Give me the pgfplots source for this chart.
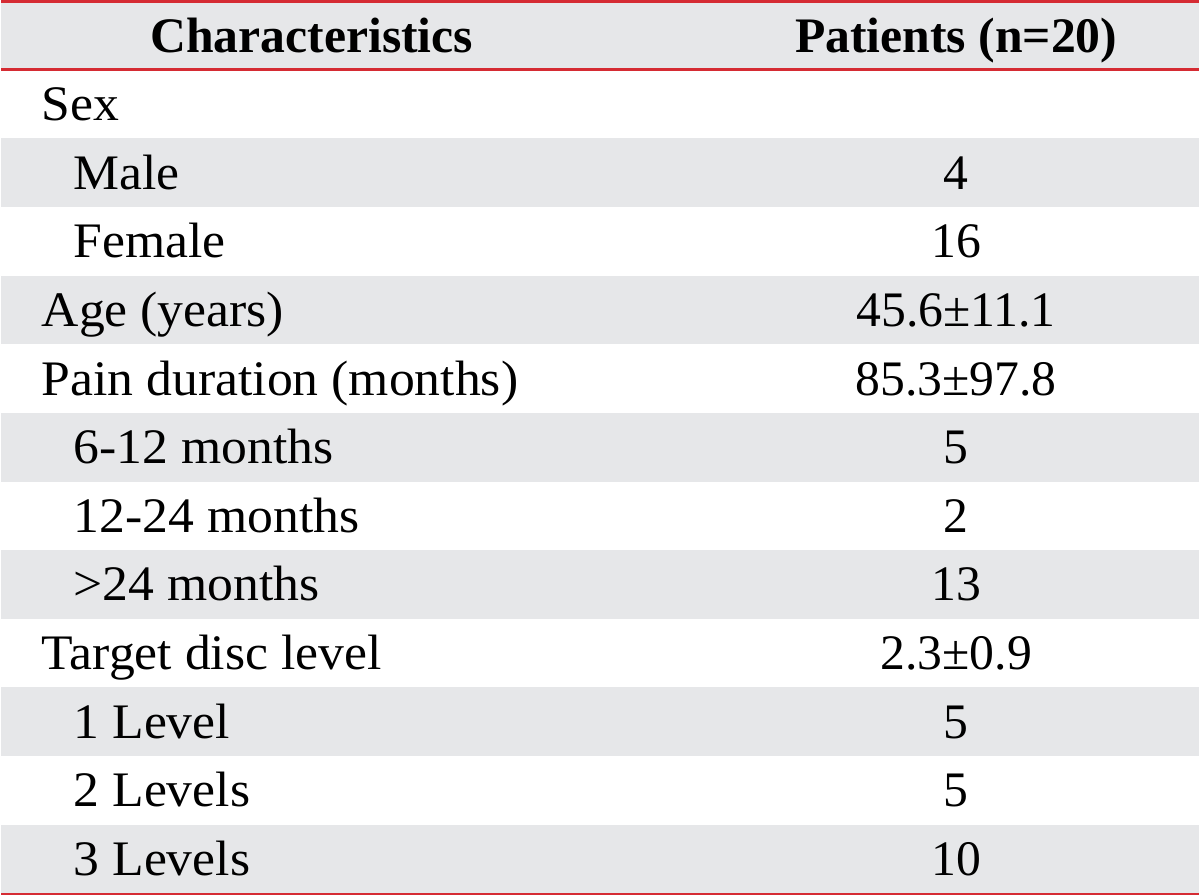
\documentclass[border=0pt]{standalone}
\usepackage{pgfplots}
\pgfplotsset{compat=1.18}
\usepackage{fontspec}
\setmainfont{Liberation Serif}
\newfontfamily\labfont[FakeStretch=1.04]{Liberation Serif}
\definecolor{band}{HTML}{E6E7E9}
\definecolor{rule}{HTML}{D52B33}
\newcommand{\tf}{\fontsize{24.9}{26}\selectfont}
\tikzset{lab/.style={anchor=base west, inner sep=0, font=\labfont\tf},
  val/.style={anchor=base, inner sep=0, font=\tf}}
\begin{document}
\begin{tikzpicture}
\begin{axis}[
  scale only axis, width=600pt, height=448.5pt,
  xmin=0, xmax=1200, ymin=0, ymax=897, y dir=reverse,
  hide axis, clip=false,
]
% gray bands (rows)
\addplot[fill=band, draw=none] coordinates {(0,0) (1200,0) (1200,70) (0,70)} --cycle;
\addplot[fill=band, draw=none] coordinates {(0,138.8) (1200,138.8) (1200,207.6) (0,207.6)} --cycle;
\addplot[fill=band, draw=none] coordinates {(0,276.4) (1200,276.4) (1200,345.2) (0,345.2)} --cycle;
\addplot[fill=band, draw=none] coordinates {(0,414.0) (1200,414.0) (1200,482.8) (0,482.8)} --cycle;
\addplot[fill=band, draw=none] coordinates {(0,551.6) (1200,551.6) (1200,620.4) (0,620.4)} --cycle;
\addplot[fill=band, draw=none] coordinates {(0,689.2) (1200,689.2) (1200,758.0) (0,758.0)} --cycle;
\addplot[fill=band, draw=none] coordinates {(0,826.8) (1200,826.8) (1200,895.6) (0,895.6)} --cycle;
% rules
\addplot[rule, line width=1.5pt] coordinates {(0,1.5) (1200,1.5)};
\addplot[rule, line width=1.5pt] coordinates {(0,70) (1200,70)};
\addplot[rule, line width=1pt] coordinates {(0,896) (1200,896)};
% header
\node[val, font=\tf\bfseries] at (axis cs:311,53) {Characteristics};
\node[val, font=\tf\bfseries] at (axis cs:957,53) {Patients (n=20)};
% body
\node[lab] at (axis cs:40,120.9) {Sex};
\node[lab] at (axis cs:72,189.7) {Male};
\node[val] at (axis cs:957,189.7) {4};
\node[lab] at (axis cs:72,258.5) {Female};
\node[val] at (axis cs:957,258.5) {16};
\node[lab] at (axis cs:40,327.3) {Age (years)};
\node[val] at (axis cs:957,327.3) {45.6±11.1};
\node[lab] at (axis cs:40,396.1) {Pain duration (months)};
\node[val] at (axis cs:957,396.1) {85.3±97.8};
\node[lab] at (axis cs:72,464.9) {6-12 months};
\node[val] at (axis cs:957,464.9) {5};
\node[lab] at (axis cs:72,533.7) {12-24 months};
\node[val] at (axis cs:957,533.7) {2};
\node[lab] at (axis cs:72,602.5) {>24 months};
\node[val] at (axis cs:957,602.5) {13};
\node[lab] at (axis cs:40,671.3) {Target disc level};
\node[val] at (axis cs:957,671.3) {2.3±0.9};
\node[lab] at (axis cs:72,740.1) {1 Level};
\node[val] at (axis cs:957,740.1) {5};
\node[lab] at (axis cs:72,808.9) {2 Levels};
\node[val] at (axis cs:957,808.9) {5};
\node[lab] at (axis cs:72,877.7) {3 Levels};
\node[val] at (axis cs:957,877.7) {10};
\end{axis}
\end{tikzpicture}
\end{document}
